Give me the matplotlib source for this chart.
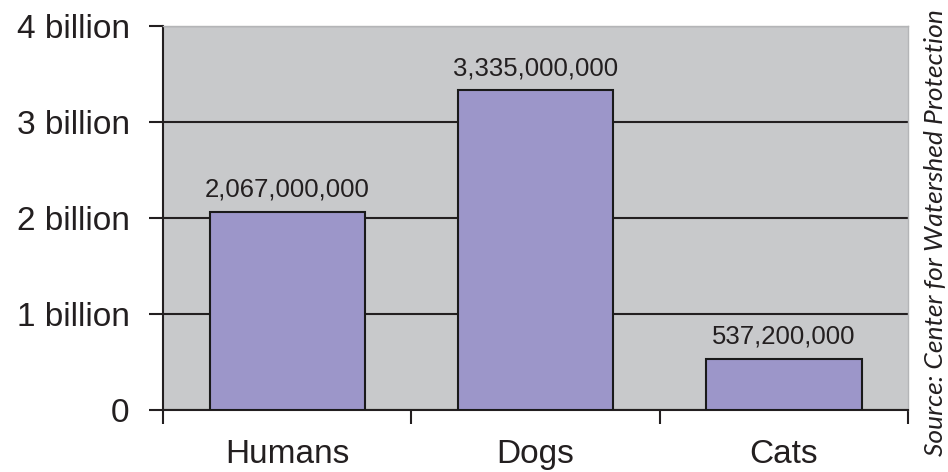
import matplotlib.pyplot as plt
from matplotlib.ticker import FixedLocator, NullFormatter

plt.rcParams['font.family'] = ['Liberation Sans', 'DejaVu Sans']

animals = ["Humans", "Dogs", "Cats"]
counts = [2067000000, 3335000000, 537200000]
value_labels = ["2,067,000,000", "3,335,000,000", "537,200,000"]
ytick_vals = [0, 1e9, 2e9, 3e9, 4e9]
ytick_text = ["0", "1 billion", "2 billion", "3 billion", "4 billion"]

fig = plt.figure(figsize=(9.48, 4.72), dpi=100)
ax = fig.add_axes([0.172, 0.131, 0.786, 0.814])
ax.set_facecolor("#c8c9cb")

x = range(len(animals))
bars = ax.bar(x, counts, width=0.625, color="#9c96c9", edgecolor="#1a1a1a",
              linewidth=1.5, zorder=3)
ax.bar_label(bars, labels=value_labels, padding=7, fontsize=18.5, color="#231f20")

ax.set_xlim(-0.5, len(animals) - 0.5)
ax.set_ylim(0, 4e9)

ax.set_yticks(ytick_vals)
ax.set_yticklabels(ytick_text, fontsize=24, color="#231f20")
ax.tick_params(axis="y", length=10, width=1.5, pad=14, color="#231f20")

# category boundary ticks, labels centered between them
ax.xaxis.set_major_locator(FixedLocator([-0.5, 0.5, 1.5, 2.5]))
ax.xaxis.set_major_formatter(NullFormatter())
ax.xaxis.set_minor_locator(FixedLocator(list(x)))
ax.set_xticklabels(animals, minor=True, fontsize=24, color="#231f20")
ax.tick_params(axis="x", which="major", length=10, width=1.5, color="#231f20")
ax.tick_params(axis="x", which="minor", length=0, pad=21)

ax.yaxis.grid(True, color="#231f20", linewidth=1.5)
ax.set_axisbelow(True)

for side in ["left", "bottom"]:
    ax.spines[side].set_color("#231f20")
    ax.spines[side].set_linewidth(1.5)
for side in ["top", "right"]:
    ax.spines[side].set_color("#b4b5b7")
    ax.spines[side].set_linewidth(1)

fig.text(0.987, 0.508, "Source: Center for Watershed Protection", rotation=90,
         ha="center", va="center", fontsize=19, style="italic",
         family=["Lato", "DejaVu Sans"], color="#231f20")

fig.savefig("out.png", dpi=100)
